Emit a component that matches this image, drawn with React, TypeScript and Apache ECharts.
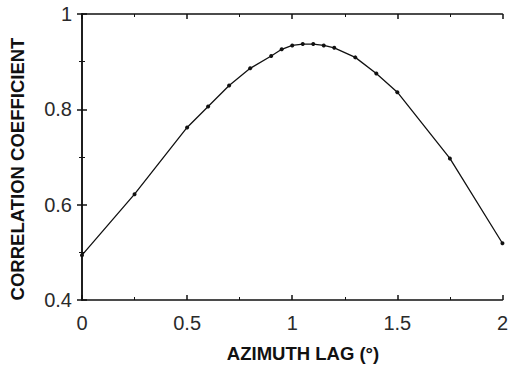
import React, { useEffect, useRef } from "react";
import * as echarts from "echarts";

// Azimuth lag (degrees) and the measured correlation coefficient at each lag
const azimuthLag = [0, 0.25, 0.5, 0.6, 0.7, 0.8, 0.9, 0.95, 1.0, 1.05, 1.1, 1.15, 1.2, 1.3, 1.4, 1.5, 1.75, 2];
const correlation = [0.494, 0.622, 0.762, 0.806, 0.85, 0.886, 0.912, 0.926, 0.934, 0.937, 0.937, 0.934, 0.929, 0.909, 0.875, 0.836, 0.697, 0.519];

const xTitle = "AZIMUTH LAG (°)";
const yTitle = "CORRELATION COEFFICIENT";

const labelFont = {
  fontFamily: "Liberation Sans, Arial, sans-serif",
  fontSize: 20,
  color: "#2a2a2a",
};

const lineStyle = { color: "#111", width: 1.5 };

export default function App() {
  const ref = useRef<HTMLDivElement>(null);

  useEffect(() => {
    if (!ref.current) return;
    const chart = echarts.init(ref.current, undefined, { renderer: "svg" });

    const baseX = {
      type: "value" as const,
      min: 0,
      max: 2,
      interval: 0.5,
      splitLine: { show: false },
      axisLine: { show: true, lineStyle },
      axisTick: { show: true, inside: true, length: 5, lineStyle },
      minorTick: { show: true, splitNumber: 2, length: 3, lineStyle: { color: "#111", width: 1 } },
      minorSplitLine: { show: false },
    };
    const baseY = {
      type: "value" as const,
      min: 0.4,
      max: 1,
      interval: 0.2,
      splitLine: { show: false },
      axisLine: { show: true, lineStyle },
      axisTick: { show: true, inside: true, length: 5, lineStyle },
      minorTick: { show: true, splitNumber: 2, length: 3, lineStyle: { color: "#111", width: 1 } },
      minorSplitLine: { show: false },
    };

    chart.setOption({
      animation: false,
      backgroundColor: "#ffffff",
      grid: { left: 82, right: 6, top: 14, bottom: 67, containLabel: false },
      xAxis: [
        {
          ...baseX,
          position: "bottom",
          axisLabel: {
            ...labelFont,
            margin: 13,
            formatter: (v: number) => String(v),
          },
        },
        { ...baseX, position: "top", axisLabel: { show: false } },
      ],
      yAxis: [
        {
          ...baseY,
          position: "left",
          axisLabel: {
            ...labelFont,
            margin: 10,
            formatter: (v: number) => String(Math.round(v * 10) / 10),
          },
        },
        { ...baseY, position: "right", axisLabel: { show: false } },
      ],
      series: [
        {
          type: "line",
          data: azimuthLag.map((x, i) => [x, correlation[i]]),
          symbol: "circle",
          symbolSize: 4,
          itemStyle: { color: "#111" },
          lineStyle: { color: "#111", width: 1.3 },
          smooth: false,
        },
      ],
      graphic: [
        {
          type: "text",
          x: 303,
          y: 353,
          style: {
            text: xTitle,
            fontFamily: "Liberation Sans, Arial, sans-serif",
            fontWeight: "bold",
            fontSize: 18.5,
            fill: "#111",
            align: "center",
            verticalAlign: "middle",
          },
        },
        {
          type: "text",
          x: 17,
          y: 169,
          rotation: Math.PI / 2,
          style: {
            text: yTitle,
            fontFamily: "Liberation Sans, Arial, sans-serif",
            fontWeight: "bold",
            fontSize: 18.5,
            fill: "#111",
            align: "center",
            verticalAlign: "middle",
          },
        },
      ],
    });

    return () => chart.dispose();
  }, []);

  return <div ref={ref} style={{ width: 511, height: 367, position: "absolute", left: 0, top: 0 }} />;
}
